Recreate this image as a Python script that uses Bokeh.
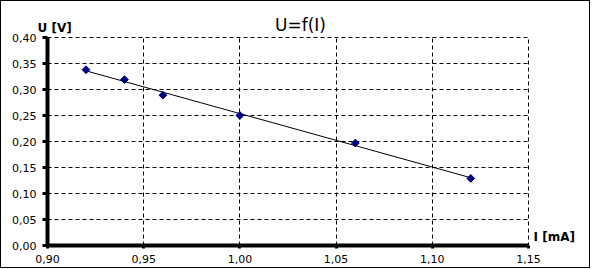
import numpy as np
from bokeh.plotting import figure
from bokeh.models import FixedTicker, Label, ColumnDataSource
from bokeh.embed import file_html
from bokeh.resources import INLINE

# Data
current_mA = [0.92, 0.94, 0.96, 1.00, 1.06, 1.12]
voltage_V = [0.338, 0.319, 0.289, 0.250, 0.197, 0.129]

x_ticks = [0.90, 0.95, 1.00, 1.05, 1.10, 1.15]
x_tick_labels = ["0,90", "0,95", "1,00", "1,05", "1,10", "1,15"]
y_ticks = [0.00, 0.05, 0.10, 0.15, 0.20, 0.25, 0.30, 0.35, 0.40]
y_tick_labels = ["0,00", "0,05", "0,10", "0,15", "0,20", "0,25", "0,30", "0,35", "0,40"]

title_text = "U=f(I)"
y_label = "U [V]"
x_label = "I [mA]"

FONT = "DejaVu Sans"

p = figure(width=590, height=268, x_range=(0.90, 1.15), y_range=(0.0, 0.40),
           output_backend="svg", toolbar_location=None,
           min_border_left=46, min_border_right=63, min_border_top=36, min_border_bottom=24)
p.styles = {"border": "1px solid black"}
p.outline_line_color = "black"
p.outline_line_dash = "4 3"
p.outline_line_width = 1
p.background_fill_color = "white"
p.border_fill_color = "white"

# Axes
for ax, ticks, labels in ((p.xaxis[0], x_ticks, x_tick_labels), (p.yaxis[0], y_ticks, y_tick_labels)):
    ax.ticker = FixedTicker(ticks=ticks, minor_ticks=[])
    ax.major_label_overrides = {t: l for t, l in zip(ticks, labels)}
    ax.axis_line_width = 4
    ax.axis_line_color = "black"
    ax.major_tick_line_width = 3
    ax.major_tick_line_color = "black"
    ax.major_tick_in = 0
    ax.minor_tick_line_color = None
    ax.major_label_text_font = FONT
    ax.major_label_text_font_size = "11px"
    ax.major_label_text_color = "black"

p.xaxis.major_tick_out = 3
p.xaxis.major_label_standoff = 6
p.yaxis.major_tick_out = 5
p.yaxis.major_label_standoff = 6

# Grid
p.xgrid.ticker = FixedTicker(ticks=x_ticks)
p.ygrid.ticker = FixedTicker(ticks=y_ticks)
for g in (p.xgrid[0], p.ygrid[0]):
    g.grid_line_color = "black"
    g.grid_line_dash = "4 3"
    g.grid_line_width = 1
    g.grid_line_alpha = 1.0

# Trend line (least-squares fit of the data)
slope, intercept = np.polyfit(current_mA, voltage_V, 1)
tx = [min(current_mA), max(current_mA)]
ty = [slope * v + intercept for v in tx]
p.line(tx, ty, line_color="black", line_width=1)

# Points
src = ColumnDataSource(dict(x=current_mA, y=voltage_V))
p.scatter("x", "y", source=src, marker="square", size=5.5, angle=np.pi / 4,
          fill_color="#000080", line_color="#000080")

# Title and axis titles (side panels, positioned on the plot's scales)
p.add_layout(Label(x=1.0315, y=0.4250, text=title_text, text_font=FONT,
                   text_font_size="17px", text_align="center",
                   text_baseline="alphabetic", text_color="black"), "above")
p.add_layout(Label(x=0.8948, y=0.4192, text=y_label, text_font=FONT,
                   text_font_size="12px", text_font_style="bold", text_align="left",
                   text_baseline="alphabetic", text_color="black"), "above")
p.add_layout(Label(x=1.1526, y=0.0173, text=x_label, text_font=FONT,
                   text_font_size="12px", text_font_style="bold", text_align="left",
                   text_baseline="alphabetic", text_color="black"), "right")

open("out.html", "w").write(file_html(p, INLINE))
